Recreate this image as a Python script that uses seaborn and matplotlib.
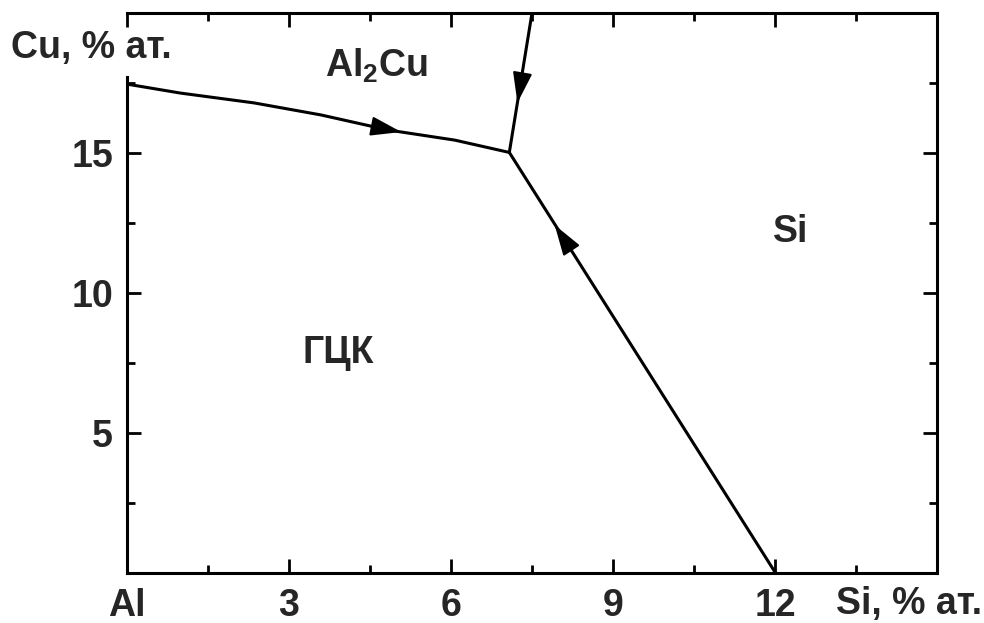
import matplotlib
matplotlib.use("Agg")
import matplotlib.pyplot as plt
import pandas as pd
import seaborn as sns
from matplotlib.ticker import MultipleLocator

# --- data (Si, Cu in at.%) ---
b1_si = [0.0, 0.99, 2.35, 3.59, 4.84, 6.07, 7.08]
b1_cu = [17.46, 17.14, 16.79, 16.36, 15.82, 15.46, 15.02]
b2_si = [7.50, 7.08]
b2_cu = [20.0, 15.02]
b3_si = [12.01, 7.08]
b3_cu = [0.0, 15.02]

arrow_tail_si = [4.55, 7.31, 8.22]
arrow_tail_cu = [15.95, 17.70, 11.55]
arrow_tip_si = [5.08, 7.23, 7.92]
arrow_tip_cu = [15.75, 16.79, 12.43]

region_labels = ["Al$_2$Cu", "Si", "ГЦК"]
region_si = [4.62, 12.29, 3.91]
region_cu = [18.1, 12.18, 7.86]

xtick_vals = [0, 3, 6, 9, 12]
xtick_labels = ["Al", "3", "6", "9", "12"]
ytick_vals = [5, 10, 15]
ytick_labels = ["5", "10", "15"]

sns.set_style("ticks")
plt.rcParams["font.family"] = ["Liberation Sans", "DejaVu Sans"]
plt.rcParams["font.weight"] = "bold"
plt.rcParams["mathtext.fontset"] = "custom"
plt.rcParams["mathtext.rm"] = "Liberation Sans:bold"
plt.rcParams["mathtext.bf"] = "Liberation Sans:bold"
plt.rcParams["mathtext.it"] = "Liberation Sans:bold"
plt.rcParams["mathtext.default"] = "bf"

FS = 27

df = pd.concat([
    pd.DataFrame({"si": b1_si, "cu": b1_cu, "b": "1"}),
    pd.DataFrame({"si": b2_si, "cu": b2_cu, "b": "2"}),
    pd.DataFrame({"si": b3_si, "cu": b3_cu, "b": "3"}),
], ignore_index=True)

fig = plt.figure(figsize=(9.84, 6.23), dpi=100)
ax = fig.add_axes([127 / 984, 50 / 623, 810 / 984, 560 / 623])

sns.lineplot(data=df, x="si", y="cu", units="b", estimator=None, sort=False,
             color="black", lw=2.2, ax=ax, legend=False)

for xt, yt, xh, yh in zip(arrow_tail_si, arrow_tail_cu, arrow_tip_si, arrow_tip_cu):
    ax.annotate("", xy=(xh, yh), xytext=(xt, yt),
                arrowprops=dict(arrowstyle="-|>,head_length=0.95,head_width=0.3",
                                mutation_scale=20, color="black", lw=1.5,
                                shrinkA=0, shrinkB=0))

for lab, x, y in zip(region_labels, region_si, region_cu):
    ax.text(x, y, lab, ha="center", va="center", fontsize=FS, fontweight="bold")

ax.set_xlim(0, 15)
ax.set_ylim(0, 20)
ax.set_xticks(xtick_vals)
ax.set_xticklabels(xtick_labels)
ax.set_yticks(ytick_vals)
ax.set_yticklabels(ytick_labels)
ax.xaxis.set_minor_locator(MultipleLocator(1.5))
ax.yaxis.set_minor_locator(MultipleLocator(2.5))
ax.tick_params(which="both", direction="in", top=True, right=True, width=2,
               labelsize=FS, color="black")
ax.tick_params(which="major", length=10)
ax.tick_params(which="minor", length=5.5)
ax.tick_params(axis="x", which="major", pad=11)
ax.tick_params(axis="y", which="major", pad=10)
for lbl in ax.get_xticklabels() + ax.get_yticklabels():
    lbl.set_fontweight("bold")
ax.set_xlabel("")
ax.set_ylabel("")
for sp in ax.spines.values():
    sp.set_linewidth(2.2)
    sp.set_color("black")
ax.spines["left"].set_bounds(0, 17.7)

fig.text(11 / 984, 1 - 48 / 623, "Cu, % ат.", ha="left", va="center",
         fontsize=FS, fontweight="bold")
fig.text(982 / 984, 1 - 604 / 623, "Si, % ат.", ha="right", va="center",
         fontsize=FS, fontweight="bold")

fig.savefig("out.png", dpi=100, facecolor="white")
